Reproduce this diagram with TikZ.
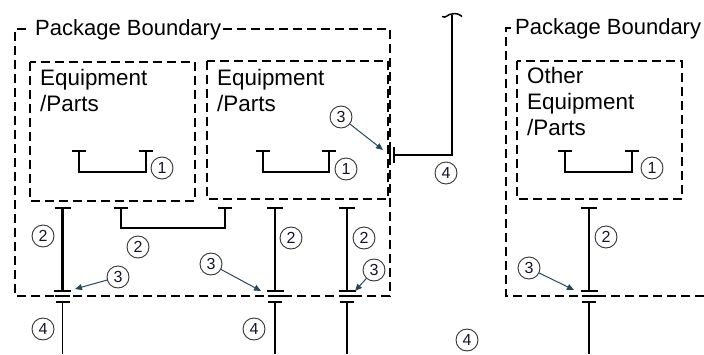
\documentclass[tikz,border=0pt]{standalone}
\usepackage{fontspec}
\setmainfont{Liberation Sans}
\usetikzlibrary{arrows.meta}
\definecolor{arrowc}{RGB}{38,72,88}
\definecolor{numc}{RGB}{20,20,40}
\begin{document}
\begin{tikzpicture}[x=1pt,y=-1pt,
  boundary/.style={draw, dash pattern=on 9pt off 5pt, line width=1.4pt},
  ucable/.style={draw, line width=1.7pt},
  thickcab/.style={draw, line width=2.9pt},
  thincab/.style={draw, line width=1.5pt},
  num/.style={circle, draw=black!80, line width=0.9pt, minimum size=22pt, inner sep=0pt, text=numc, font=\fontsize{16}{16}\selectfont},
  ptr/.style={draw=arrowc, line width=1pt, -{Triangle[length=7pt,width=6pt]}},
  lbl/.style={font=\fontsize{22.4}{26}\selectfont, inner sep=0pt, anchor=base west},
  ttl/.style={font=\fontsize{22}{26}\selectfont, inner sep=0pt, anchor=base west}]
\useasboundingbox (0,0) rectangle (704,354);
% ---------- left package
\draw[boundary] (223,29) -- (390,29) -- (390,296) -- (15,296) -- (15,29) -- (28,29);
\node[ttl] (t1) at (35,35) {Package Boundary};
\draw[boundary] (30,62) rectangle (195,201);
\draw[boundary] (207,61) rectangle (388,199);
\node[lbl] (e1a) at (40,85) {Equipment};
\node[lbl] (e1b) at (40,111) {/Parts};
\node[lbl] (e2a) at (217,85) {Equipment};
\node[lbl] (e2b) at (217,111) {/Parts};
% ---------- right package
\draw[boundary] (704,296) -- (506,296) -- (506,28) -- (512,28);
\node[ttl] (t2) at (515,34) {Package Boundary};
\draw[boundary] (517,61) rectangle (682,199);
\node[lbl] (o1) at (527,83) {Other};
\node[lbl] (o2) at (527,109) {Equipment};
\node[lbl] (o3) at (527,135) {/Parts};
% ---------- cable 1 (U shapes)
\foreach \a/\b/\n in {79/146/u1, 263/329/u2, 565/632/u3}{
  \coordinate (\n l) at (\a,151);
  \coordinate (\n r) at (\b,151);
  \draw[ucable] ([xshift=-7pt]\n l) -- ([xshift=7pt]\n l);
  \draw[ucable] ([xshift=-7pt]\n r) -- ([xshift=7pt]\n r);
  \draw[ucable] (\n l) -- (\a,172) -- (\b,172) -- (\n r);
}
\node[num] (n1a) at (162,168) {1};
\node[num] (n1b) at (346,169) {1};
\node[num] (n1c) at (652,168) {1};
% ---------- cable 2 verticals with connector (3) and cable 4
\foreach \x/\n in {62.5/A, 275/C, 347/D, 589/E}{
  \coordinate (\n top) at (\x,208);
  \coordinate (\n bot) at (\x,291);
  \coordinate (\n lo) at (\x,302);
  \coordinate (\n end) at (\x,354);
  \draw[thickcab] ([xshift=-8pt]\n top) -- ([xshift=8pt]\n top);
  \draw[thickcab] (\n top) -- (\n bot);
  \draw[thickcab] ([xshift=-8.5pt]\n bot) -- ([xshift=8.5pt]\n bot);
  \draw[thincab] ([xshift=-7.5pt]\x,296) -- ([xshift=7.5pt]\x,296);
  \draw[thincab] ([xshift=-7pt]\n lo) -- ([xshift=7pt]\n lo);
  \draw[thincab] (\n lo) -- (\n end);
}
% bracket cable 2 between boxes
\coordinate (Bl) at (121,208);
\coordinate (Br) at (225,208);
\draw[thickcab] ([xshift=-7pt]Bl) -- ([xshift=7pt]Bl);
\draw[thickcab] ([xshift=-7pt]Br) -- ([xshift=7pt]Br);
\draw[thickcab] (Bl) -- (121,228) -- (225,228) -- (Br);
\node[num] (n2a) at (43,236) {2};
\node[num] (n2b) at (138,247) {2};
\node[num] (n2c) at (291,238) {2};
\node[num] (n2d) at (364,238) {2};
\node[num] (n2e) at (606,237) {2};
% ---------- side connector and cable 4 going up
\coordinate (S1) at (390,155);
\coordinate (S2) at (394,155);
\coordinate (Sc) at (452,155);
\coordinate (Stop) at (452,15);
\draw[thincab] ([yshift=-8pt]S1) -- ([yshift=8pt]S1);
\draw[thincab] ([yshift=-8pt]S2) -- ([yshift=8pt]S2);
\draw[thincab] (S2) -- (Sc) -- (Stop);
\draw[thincab] (442,16.5) .. controls (446,19) and (448,13.5) .. (452,14) .. controls (456,13) and (459,14) .. (462,16.5);
% ---------- pointers (3)
\node[num] (n3a) at (341,117) {3};
\node[num] (n3b) at (118,277) {3};
\node[num] (n3c) at (211,264) {3};
\node[num] (n3d) at (374,270) {3};
\node[num] (n3e) at (529,268) {3};
\coordinate (p3a) at (383,150);
\coordinate (p3b) at (75,289);
\coordinate (p3c) at (261,291);
\coordinate (p3d) at (355,291);
\coordinate (p3e) at (574,290);
\draw[ptr] (n3a) -- (p3a);
\draw[ptr] (n3b) -- (p3b);
\draw[ptr] (n3c) -- (p3c);
\draw[ptr] (n3d) -- (p3d);
\draw[ptr] (n3e) -- (p3e);
% ---------- labels (4)
\node[num] (n4a) at (446,173) {4};
\node[num] (n4b) at (43,329) {4};
\node[num] (n4c) at (254,329) {4};
\node[num] (n4d) at (467,340) {4};
\end{tikzpicture}
\end{document}
